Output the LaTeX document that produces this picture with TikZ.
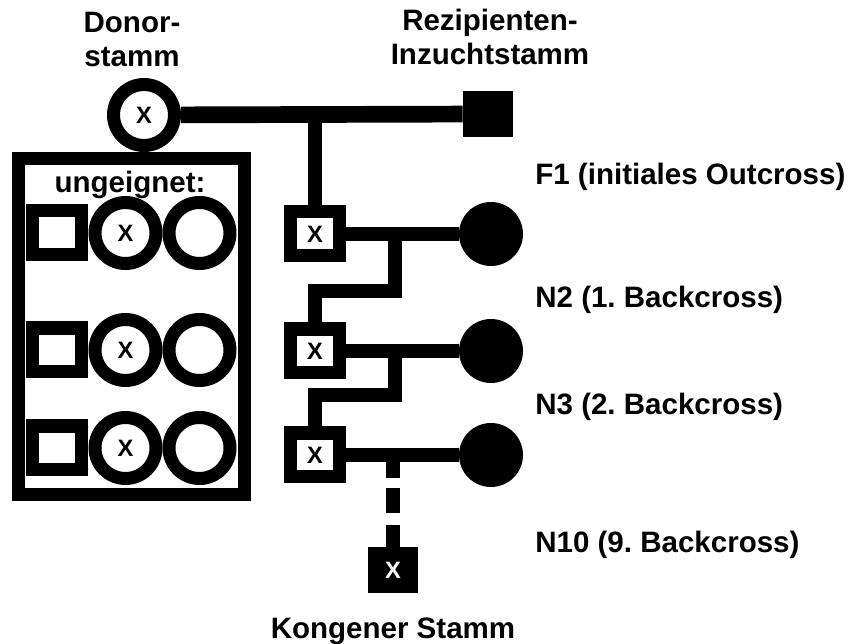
\documentclass[tikz,border=0pt]{standalone}
\usepackage{fontspec}
\setmainfont{Liberation Sans}
\frenchspacing
\usetikzlibrary{positioning}

\begin{document}
\begin{tikzpicture}[
    x=0.02cm, y=-0.02cm,
    lbl/.style={font=\fontsize{16.8}{19.4}\selectfont\bfseries, inner sep=0pt, align=center},
    xmark/.style={font=\fontsize{13.5}{15}\selectfont\bfseries},
    sqr/.style={rectangle, draw, line width=7.4pt, fill=white, inner sep=0pt,
                minimum width=1.0cm, minimum height=0.88cm, xmark},
    circ/.style={circle, draw, line width=7.4pt, fill=white, inner sep=0pt,
                 minimum size=1.22cm, xmark},
    fsqr/.style={rectangle, fill=black, inner sep=0pt, xmark, text=white},
    fcirc/.style={circle, fill=black, inner sep=0pt, minimum size=1.28cm},
    link/.style={line width=8.5pt, line cap=butt, line join=miter}
]
\useasboundingbox (0,0) rectangle (852,644);

% parents
\node[circ] (donor) at (144,115) {X};
\node[fsqr, minimum width=1.0cm, minimum height=0.92cm] (recip) at (488,114) {};
\node[lbl, anchor=base] (donorlbl) at (132,67) {Donor-\\stamm};
\node[lbl, anchor=base] (reciplbl) at (490,65) {Rezipienten-\\Inzuchtstamm};

% generations
\node[sqr]   (f1sq) at (315,234) {X};
\node[fcirc] (f1ci) at (491,234) {};
\node[sqr]   (n2sq) at (315,351) {X};
\node[fcirc] (n2ci) at (491,351) {};
\node[sqr]   (n3sq) at (315,455) {X};
\node[fcirc] (n3ci) at (491,455) {};
\node[fsqr, minimum width=1.02cm, minimum height=0.92cm] (n10sq) at (393,570) {X};
\node[lbl, below=0.48cm of n10sq] (konglbl) {Kongener Stamm};

\coordinate (j1) at (395,291);
\coordinate (j2) at (395,395);

\draw[link, line width=9.5pt] (donor) -- (recip);
\draw[link] (f1sq.north) -- (f1sq.north |- donor);
\draw[link] (f1sq) -- (f1ci);
\draw[link] (j1 |- f1ci) -- (j1) -| (n2sq.north);
\draw[link] (n2sq) -- (n2ci);
\draw[link] (j2 |- n2ci) -- (j2) -| (n3sq.north);
\draw[link] (n3sq) -- (n3ci);
\draw[link, dash pattern=on 13.1pt off 5.7pt on 14.2pt off 6.8pt]
    (n10sq.north |- n3ci) -- (n10sq.north);

% generation labels
\node[lbl, anchor=base west] (f1lbl)  at (535,185) {F1 (initiales Outcross)};
\node[lbl, anchor=base west] (n2lbl)  at (535,308) {N2 (1. Backcross)};
\node[lbl, anchor=base west] (n3lbl)  at (535,415) {N3 (2. Backcross)};
\node[lbl, anchor=base west] (n10lbl) at (535,553) {N10 (9. Backcross)};

% unsuitable offspring
\draw[line width=7.4pt] (18.5,158.5) rectangle (244.5,494.5);
\node[lbl, anchor=base] (unlbl) at (130,193) {ungeignet:};
\foreach \r/\y in {1/233, 2/350, 3/448} {
    \node[sqr] (u\r a) at (57,\y) {};
    \node[circ, right=0pt of u\r a] (u\r b) {X};
    \node[circ, right=0pt of u\r b] (u\r c) {};
}
\end{tikzpicture}
\end{document}
